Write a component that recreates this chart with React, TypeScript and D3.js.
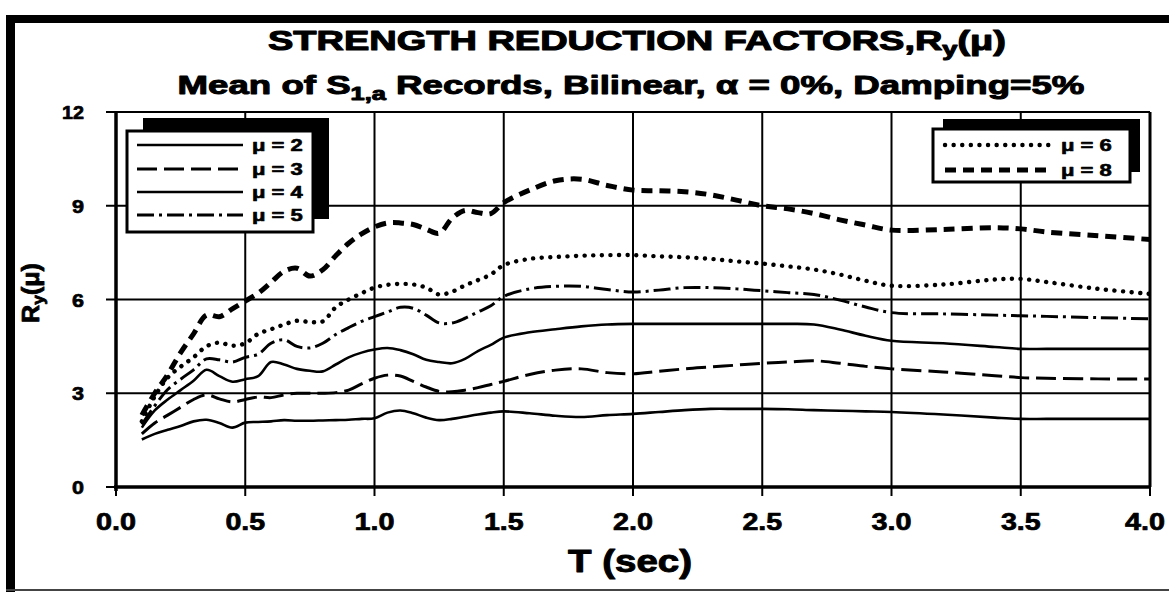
import React, { useLayoutEffect, useRef, useState } from 'react';
import * as d3 from 'd3';

const W = 1169;
const H = 592;
const FONT = "'Liberation Sans', Arial, Helvetica, sans-serif";

// Period grid (sec) shared by all curves
const periods = [
  0.1, 0.15, 0.2, 0.25, 0.3, 0.35, 0.4, 0.45, 0.5, 0.55, 0.6, 0.65, 0.7, 0.75, 0.8, 0.85, 0.9, 0.95,
  1.0, 1.05, 1.1, 1.15, 1.2, 1.25, 1.3, 1.35, 1.4, 1.45, 1.5, 1.6, 1.7, 1.8, 1.9, 2.0, 2.1, 2.2, 2.3,
  2.4, 2.5, 2.6, 2.7, 2.8, 2.9, 3.0, 3.2, 3.4, 3.5, 3.6, 3.8, 4.0,
];

// Mean strength reduction factors Ry(mu) per ductility level
const mu2 = [
  1.52, 1.7, 1.83, 1.95, 2.1, 2.15, 2.05, 1.9, 2.06, 2.08, 2.1, 2.14, 2.12, 2.12, 2.13, 2.14, 2.15, 2.18,
  2.2, 2.38, 2.45, 2.36, 2.22, 2.14, 2.18, 2.25, 2.32, 2.38, 2.42, 2.36, 2.28, 2.24, 2.3, 2.34, 2.4, 2.46, 2.5,
  2.5, 2.5, 2.49, 2.46, 2.44, 2.42, 2.4, 2.32, 2.22, 2.18, 2.18, 2.18, 2.18,
];
const mu3 = [
  1.7, 2.05, 2.3, 2.55, 2.8, 2.95, 2.82, 2.72, 2.8, 2.88, 2.86, 2.95, 3.0, 3.0, 3.0, 3.02, 3.1, 3.3,
  3.48, 3.58, 3.55, 3.38, 3.2, 3.06, 3.05, 3.1, 3.18, 3.28, 3.38, 3.6, 3.74, 3.78, 3.66, 3.62, 3.7, 3.78, 3.84,
  3.9, 3.96, 4.0, 4.04, 3.96, 3.86, 3.78, 3.68, 3.56, 3.5, 3.48, 3.46, 3.46,
];
const mu4 = [
  1.9, 2.45, 2.8, 3.1, 3.4, 3.75, 3.55, 3.37, 3.45, 3.55, 4.0, 3.92, 3.78, 3.72, 3.7, 3.92, 4.15, 4.3,
  4.4, 4.45, 4.38, 4.25, 4.07, 4.0, 3.96, 4.1, 4.35, 4.55, 4.78, 4.95, 5.05, 5.14, 5.2, 5.22, 5.22, 5.22, 5.22,
  5.22, 5.22, 5.22, 5.2, 5.04, 4.84, 4.68, 4.6, 4.48, 4.42, 4.42, 4.42, 4.42,
];
const mu5 = [
  2.0, 2.6, 3.12, 3.45, 3.75, 4.1, 4.07, 4.0, 4.15, 4.25, 4.6, 4.71, 4.5, 4.45, 4.6, 4.88, 5.1, 5.3,
  5.45, 5.6, 5.75, 5.72, 5.5, 5.25, 5.25, 5.4, 5.6, 5.8, 6.1, 6.34, 6.42, 6.42, 6.32, 6.24, 6.3, 6.38, 6.38,
  6.34, 6.28, 6.22, 6.16, 5.98, 5.76, 5.58, 5.54, 5.5, 5.48, 5.46, 5.42, 5.38,
];
const mu6 = [
  2.1, 2.9, 3.5, 3.85, 4.15, 4.5, 4.62, 4.52, 4.6, 4.9, 5.05, 5.2, 5.32, 5.28, 5.3, 5.75, 6.0, 6.2,
  6.38, 6.47, 6.5, 6.48, 6.38, 6.16, 6.25, 6.45, 6.62, 6.8, 7.1, 7.3, 7.36, 7.4, 7.42, 7.42, 7.38, 7.35, 7.3,
  7.22, 7.15, 7.06, 6.96, 6.8, 6.6, 6.44, 6.48, 6.64, 6.66, 6.56, 6.34, 6.18,
];
const mu8 = [
  2.3, 3.0, 3.6, 4.3, 4.9, 5.5, 5.45, 5.7, 5.95, 6.2, 6.55, 6.9, 7.0, 6.75, 6.95, 7.4, 7.8, 8.1,
  8.32, 8.45, 8.45, 8.4, 8.25, 8.12, 8.6, 8.85, 8.78, 8.75, 9.1, 9.5, 9.8, 9.85, 9.65, 9.5, 9.48, 9.45, 9.35,
  9.18, 9.0, 8.9, 8.75, 8.55, 8.38, 8.22, 8.24, 8.3, 8.26, 8.16, 8.04, 7.92,
];

const seriesNames = ['μ = 2', 'μ = 3', 'μ = 4', 'μ = 5', 'μ = 6', 'μ = 8'];
const seriesValues = [mu2, mu3, mu4, mu5, mu6, mu8];

const xTicks = [0, 0.5, 1.0, 1.5, 2.0, 2.5, 3.0, 3.5, 4.0];
const yTicks = [0, 3, 6, 9, 12];

// line styles per ductility level
const styles = [
  { width: 2.6, dash: 'none', cap: 'butt' },
  { width: 3, dash: '20 7', cap: 'butt' },
  { width: 2.6, dash: 'none', cap: 'butt' },
  { width: 3, dash: '17 5 3 5', cap: 'butt' },
  { width: 4.4, dash: '0.1 8.5', cap: 'round' },
  { width: 5, dash: '11 7', cap: 'butt' },
];

const x = d3.scaleLinear().domain([0, 4]).range([116, 1150]);
const y = d3.scaleLinear().domain([0, 12]).range([487, 112]);

type FitProps = {
  x: number;
  y: number;
  width: number;
  fontSize: number;
  anchor?: 'start' | 'middle' | 'end';
  rotate?: number;
  weight?: number;
  children: React.ReactNode;
};

// Heavy text block horizontally scaled to span a given width
function FitText({ x: tx, y: ty, width, fontSize, anchor = 'middle', rotate = 0, weight = 0.8, children }: FitProps) {
  const ref = useRef<SVGTextElement>(null);
  const [sx, setSx] = useState(1);
  useLayoutEffect(() => {
    if (ref.current) {
      const w = ref.current.getBBox().width;
      if (w > 0) setSx(width / w);
    }
  }, [width]);
  return (
    <g transform={`translate(${tx},${ty}) rotate(${rotate}) scale(${sx},1)`}>
      <text
        ref={ref}
        textAnchor={anchor}
        fontSize={fontSize}
        fontWeight="bold"
        fontFamily={FONT}
        fill="#000"
        stroke="#000"
        strokeWidth={weight}
        strokeLinejoin="round"
      >
        {children}
      </text>
    </g>
  );
}

type LegendProps = {
  x0: number;
  y0: number;
  x1: number;
  y1: number;
  dx: number;
  dy: number;
  rows: number[];
  rowY: number[];
  lineX0: number;
  lineX1: number;
  labelX: number;
};

function Legend({ x0, y0, x1, y1, dx, dy, rows, rowY, lineX0, lineX1, labelX }: LegendProps) {
  return (
    <g>
      <rect x={x0 + dx} y={y0 + dy} width={x1 - x0} height={y1 - y0} fill="#000" />
      <rect x={x0} y={y0} width={x1 - x0} height={y1 - y0} fill="#fff" stroke="#000" strokeWidth={3} />
      {rows.map((si, i) => {
        const st = styles[si];
        return (
          <g key={si}>
            <line
              x1={lineX0}
              x2={lineX1}
              y1={rowY[i]}
              y2={rowY[i]}
              stroke="#000"
              strokeWidth={st.width}
              strokeDasharray={st.dash}
              strokeLinecap={st.cap as any}
            />
            <FitText x={labelX} y={rowY[i] + 6} width={51} fontSize={16} anchor="start" weight={0.6}>
              {seriesNames[si]}
            </FitText>
          </g>
        );
      })}
    </g>
  );
}

export default function App() {
  const line = d3
    .line<[number, number]>()
    .x((d) => x(d[0]))
    .y((d) => y(d[1]))
    .curve(d3.curveCatmullRom.alpha(0.5));

  const [x0, x1] = x.range();
  const [yb, yt] = y.range();

  return (
    <svg
      width={W}
      height={H}
      viewBox={`0 0 ${W} ${H}`}
      style={{ position: 'absolute', left: 0, top: 0, background: '#fff' }}
    >
      <rect x={0} y={0} width={W} height={H} fill="#fff" />
      <defs>
        <clipPath id="plotClip">
          <rect x={x0} y={yt - 2} width={x1 - x0} height={yb - yt + 2} />
        </clipPath>
      </defs>

      {/* outer frame */}
      <rect x={6} y={15} width={9} height={H - 15} fill="#000" />
      <rect x={6} y={15} width={W - 6} height={8} fill="#000" />
      <rect x={6} y={589} width={W - 6} height={2} fill="#444" />

      {/* titles */}
      <FitText x={637} y={50} width={738} fontSize={28} weight={1.1}>
        STRENGTH REDUCTION FACTORS,R
        <tspan fontSize={20} dy={6}>y</tspan>
        <tspan dy={-6}>(μ)</tspan>
      </FitText>
      <FitText x={631} y={94} width={907} fontSize={26} weight={1}>
        Mean of S
        <tspan fontSize={18} dy={6}>1,a</tspan>
        <tspan dy={-6}> Records, Bilinear, α = 0%, Damping=5%</tspan>
      </FitText>

      {/* grid */}
      {xTicks.slice(1).map((t) => (
        <line key={'gx' + t} x1={x(t)} x2={x(t)} y1={yt} y2={yb} stroke="#000" strokeWidth={2} />
      ))}
      {yTicks.slice(1).map((t) => (
        <line key={'gy' + t} x1={x0} x2={x1} y1={y(t)} y2={y(t)} stroke="#000" strokeWidth={2} />
      ))}

      {/* axes */}
      <line x1={x0} x2={x0} y1={yt} y2={yb + 4} stroke="#000" strokeWidth={3.5} />
      <line x1={x0 - 2} x2={x1 + 1} y1={yb} y2={yb} stroke="#000" strokeWidth={3.5} />
      <line x1={x1} x2={x1} y1={yt} y2={yb} stroke="#000" strokeWidth={3} />
      {xTicks.map((t) => (
        <line key={'tx' + t} x1={x(t)} x2={x(t)} y1={yb} y2={yb + 9} stroke="#000" strokeWidth={2} />
      ))}
      {yTicks.map((t) => (
        <line key={'ty' + t} x1={x0 - 10} x2={x0} y1={y(t)} y2={y(t)} stroke="#000" strokeWidth={2} />
      ))}

      {/* tick labels */}
      {xTicks.map((t) => (
        <FitText key={'lx' + t} x={Math.min(x(t), 1145)} y={530} width={40} fontSize={23} weight={0.7}>
          {t.toFixed(1)}
        </FitText>
      ))}
      {yTicks.map((t) => (
        <FitText
          key={'ly' + t}
          x={84}
          y={y(t) + 7}
          width={t >= 10 ? 22 : 12}
          fontSize={19}
          anchor="end"
          weight={0.7}
        >
          {t}
        </FitText>
      ))}

      {/* axis titles */}
      <FitText x={630} y={572} width={124} fontSize={32} weight={1}>
        T (sec)
      </FitText>
      <FitText x={39} y={293} width={60} fontSize={23} rotate={-90} weight={0.8}>
        R<tspan fontSize={16} dy={5}>y</tspan>
        <tspan dy={-5}>(μ)</tspan>
      </FitText>

      {/* curves */}
      <g clipPath="url(#plotClip)">
        {seriesValues.map((vals, si) => {
          const st = styles[si];
          const pts = periods.map((p, i) => [p, vals[i]] as [number, number]);
          return (
            <path
              key={seriesNames[si]}
              d={line(pts) || ''}
              fill="none"
              stroke="#000"
              strokeWidth={st.width}
              strokeDasharray={st.dash}
              strokeLinecap={st.cap as any}
              strokeLinejoin="round"
            />
          );
        })}
      </g>

      {/* legends */}
      <Legend
        x0={127}
        y0={131}
        x1={313}
        y1={232}
        dx={16}
        dy={-13}
        rows={[0, 1, 2, 3]}
        rowY={[145, 169, 192, 215]}
        lineX0={137}
        lineX1={243}
        labelX={252}
      />
      <Legend
        x0={933}
        y0={129}
        x1={1130}
        y1={182}
        dx={10}
        dy={-10}
        rows={[4, 5]}
        rowY={[145, 170]}
        lineX0={945}
        lineX1={1053}
        labelX={1061}
      />
    </svg>
  );
}
